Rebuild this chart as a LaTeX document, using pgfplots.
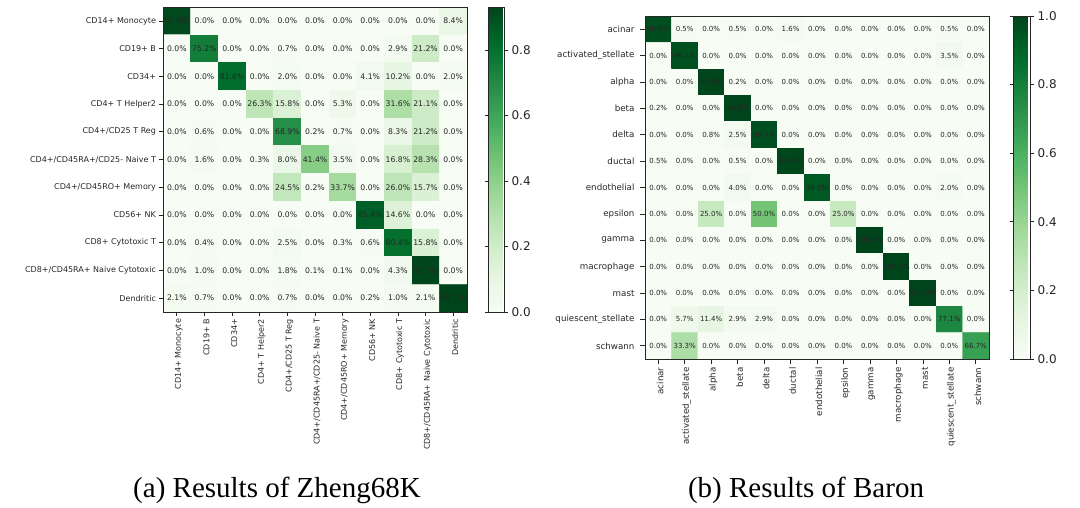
\documentclass[border=0pt]{standalone}
\usepackage{pgfplots}
\pgfplotsset{compat=1.18}
\usepackage{pgfplotstable}
\usepackage{fontspec}
\setmainfont{DejaVu Sans}
\newfontfamily\capfont{Liberation Serif}

%% matplotlib "Greens"
\pgfplotsset{
  colormap={greens}{rgb255=(247,252,245) rgb255=(229,245,224) rgb255=(199,233,192)
    rgb255=(161,217,155) rgb255=(116,196,118) rgb255=(65,171,93) rgb255=(35,139,69)
    rgb255=(0,109,44) rgb255=(0,68,27)},
  /pgf/number format/assume math mode=true,
  confmat/.style={
    scale only axis, enlargelimits=false, y dir=reverse, axis on top,
    colormap name=greens,
    axis line style={black!85, line width=0.8pt},
    tick align=outside, tick pos=left, major tick length=3.5pt,
    tick style={black!85, line width=0.7pt},
    xticklabel style={rotate=90, anchor=east, text=black!85},
    yticklabel style={text=black!85},
  },
  cbar/.style={
    scale only axis, at={(parent axis.north east)}, anchor=north west,
    axis line style={black!85, line width=0.8pt},
    tick align=outside, major tick length=3.5pt,
    tick style={black!85, line width=0.7pt},
    yticklabel style={font=\fontsize{12}{14}\selectfont, text=black!85},
  },
}

%% row-normalised confusion matrices (percent), x = predicted, y = true
\pgfplotstableread[row sep=\\]{
x y v\\
0 0 91.6\\ 1 0 0\\ 2 0 0\\ 3 0 0\\ 4 0 0\\ 5 0 0\\ 6 0 0\\ 7 0 0\\ 8 0 0\\ 9 0 0\\ 10 0 8.4\\
0 1 0\\ 1 1 75.2\\ 2 1 0\\ 3 1 0\\ 4 1 0.7\\ 5 1 0\\ 6 1 0\\ 7 1 0\\ 8 1 2.9\\ 9 1 21.2\\ 10 1 0\\
0 2 0\\ 1 2 0\\ 2 2 81.6\\ 3 2 0\\ 4 2 2.0\\ 5 2 0\\ 6 2 0\\ 7 2 4.1\\ 8 2 10.2\\ 9 2 0\\ 10 2 2.0\\
0 3 0\\ 1 3 0\\ 2 3 0\\ 3 3 26.3\\ 4 3 15.8\\ 5 3 0\\ 6 3 5.3\\ 7 3 0\\ 8 3 31.6\\ 9 3 21.1\\ 10 3 0\\
0 4 0\\ 1 4 0.6\\ 2 4 0\\ 3 4 0\\ 4 4 68.9\\ 5 4 0.2\\ 6 4 0.7\\ 7 4 0\\ 8 4 8.3\\ 9 4 21.2\\ 10 4 0\\
0 5 0\\ 1 5 1.6\\ 2 5 0\\ 3 5 0.3\\ 4 5 8.0\\ 5 5 41.4\\ 6 5 3.5\\ 7 5 0\\ 8 5 16.8\\ 9 5 28.3\\ 10 5 0\\
0 6 0\\ 1 6 0\\ 2 6 0\\ 3 6 0\\ 4 6 24.5\\ 5 6 0.2\\ 6 6 33.7\\ 7 6 0\\ 8 6 26.0\\ 9 6 15.7\\ 10 6 0\\
0 7 0\\ 1 7 0\\ 2 7 0\\ 3 7 0\\ 4 7 0\\ 5 7 0\\ 6 7 0\\ 7 7 85.4\\ 8 7 14.6\\ 9 7 0\\ 10 7 0\\
0 8 0\\ 1 8 0.4\\ 2 8 0\\ 3 8 0\\ 4 8 2.5\\ 5 8 0\\ 6 8 0.3\\ 7 8 0.6\\ 8 8 80.4\\ 9 8 15.8\\ 10 8 0\\
0 9 0\\ 1 9 1.0\\ 2 9 0\\ 3 9 0\\ 4 9 1.8\\ 5 9 0.1\\ 6 9 0.1\\ 7 9 0\\ 8 9 4.3\\ 9 9 92.7\\ 10 9 0\\
0 10 2.1\\ 1 10 0.7\\ 2 10 0\\ 3 10 0\\ 4 10 0.7\\ 5 10 0\\ 6 10 0\\ 7 10 0.2\\ 8 10 1.0\\ 9 10 2.1\\ 10 10 93.1\\
}\zheng

\pgfplotstableread[row sep=\\]{
x y v\\
0 0 96.9\\ 1 0 0.5\\ 2 0 0\\ 3 0 0.5\\ 4 0 0\\ 5 0 1.6\\ 6 0 0\\ 7 0 0\\ 8 0 0\\ 9 0 0\\ 10 0 0\\ 11 0 0.5\\ 12 0 0\\
0 1 0\\ 1 1 96.5\\ 2 1 0\\ 3 1 0\\ 4 1 0\\ 5 1 0\\ 6 1 0\\ 7 1 0\\ 8 1 0\\ 9 1 0\\ 10 1 0\\ 11 1 3.5\\ 12 1 0\\
0 2 0\\ 1 2 0\\ 2 2 99.8\\ 3 2 0.2\\ 4 2 0\\ 5 2 0\\ 6 2 0\\ 7 2 0\\ 8 2 0\\ 9 2 0\\ 10 2 0\\ 11 2 0\\ 12 2 0\\
0 3 0.2\\ 1 3 0\\ 2 3 0\\ 3 3 99.8\\ 4 3 0\\ 5 3 0\\ 6 3 0\\ 7 3 0\\ 8 3 0\\ 9 3 0\\ 10 3 0\\ 11 3 0\\ 12 3 0\\
0 4 0\\ 1 4 0\\ 2 4 0.8\\ 3 4 2.5\\ 4 4 96.7\\ 5 4 0\\ 6 4 0\\ 7 4 0\\ 8 4 0\\ 9 4 0\\ 10 4 0\\ 11 4 0\\ 12 4 0\\
0 5 0.5\\ 1 5 0\\ 2 5 0\\ 3 5 0.5\\ 4 5 0\\ 5 5 99.1\\ 6 5 0\\ 7 5 0\\ 8 5 0\\ 9 5 0\\ 10 5 0\\ 11 5 0\\ 12 5 0\\
0 6 0\\ 1 6 0\\ 2 6 0\\ 3 6 4.0\\ 4 6 0\\ 5 6 0\\ 6 6 94.0\\ 7 6 0\\ 8 6 0\\ 9 6 0\\ 10 6 0\\ 11 6 2.0\\ 12 6 0\\
0 7 0\\ 1 7 0\\ 2 7 25.0\\ 3 7 0\\ 4 7 50.0\\ 5 7 0\\ 6 7 0\\ 7 7 25.0\\ 8 7 0\\ 9 7 0\\ 10 7 0\\ 11 7 0\\ 12 7 0\\
0 8 0\\ 1 8 0\\ 2 8 0\\ 3 8 0\\ 4 8 0\\ 5 8 0\\ 6 8 0\\ 7 8 0\\ 8 8 100.0\\ 9 8 0\\ 10 8 0\\ 11 8 0\\ 12 8 0\\
0 9 0\\ 1 9 0\\ 2 9 0\\ 3 9 0\\ 4 9 0\\ 5 9 0\\ 6 9 0\\ 7 9 0\\ 8 9 0\\ 9 9 100.0\\ 10 9 0\\ 11 9 0\\ 12 9 0\\
0 10 0\\ 1 10 0\\ 2 10 0\\ 3 10 0\\ 4 10 0\\ 5 10 0\\ 6 10 0\\ 7 10 0\\ 8 10 0\\ 9 10 0\\ 10 10 100.0\\ 11 10 0\\ 12 10 0\\
0 11 0\\ 1 11 5.7\\ 2 11 11.4\\ 3 11 2.9\\ 4 11 2.9\\ 5 11 0\\ 6 11 0\\ 7 11 0\\ 8 11 0\\ 9 11 0\\ 10 11 0\\ 11 11 77.1\\ 12 11 0\\
0 12 0\\ 1 12 33.3\\ 2 12 0\\ 3 12 0\\ 4 12 0\\ 5 12 0\\ 6 12 0\\ 7 12 0\\ 8 12 0\\ 9 12 0\\ 10 12 0\\ 11 12 0\\ 12 12 66.7\\
}\baron

\begin{document}
\begin{tikzpicture}[x=1pt,y=1pt]
  \useasboundingbox (0,0) rectangle (1080,-507);

  %% (a) Zheng68K
  \begin{axis}[confmat,
    at={(163pt,-7pt)}, anchor=north west,
    width=304pt, height=305pt,
    xmin=-0.5, xmax=10.5, ymin=-0.5, ymax=10.5,
    xtick={0,...,10}, ytick={0,...,10},
    xticklabels={CD14+ Monocyte, CD19+ B, CD34+, CD4+ T Helper2, CD4+/CD25 T Reg,
      CD4+/CD45RA+/CD25- Naive T, CD4+/CD45RO+ Memory, CD56+ NK, CD8+ Cytotoxic T,
      CD8+/CD45RA+ Naive Cytotoxic, Dendritic},
    yticklabels={CD14+ Monocyte, CD19+ B, CD34+, CD4+ T Helper2, CD4+/CD25 T Reg,
      CD4+/CD45RA+/CD25- Naive T, CD4+/CD45RO+ Memory, CD56+ NK, CD8+ Cytotoxic T,
      CD8+/CD45RA+ Naive Cytotoxic, Dendritic},
    ticklabel style={font=\fontsize{8}{9}\selectfont},
    xticklabel style={yshift=-2pt},
    point meta min=0, point meta max=93.1,
    colorbar,
    colorbar style={cbar, xshift=13pt, width=16pt, height=305pt,
      ytick={0,20,40,60,80}, yticklabels={0.0,0.2,0.4,0.6,0.8}},
  ]
    \addplot [matrix plot*, mesh/cols=11, point meta=explicit] table [meta=v] {\zheng};
    \addplot [only marks, mark=none, point meta=explicit,
      nodes near coords={\pgfmathprintnumber[fixed,fixed zerofill,precision=1]{\pgfplotspointmeta}\%},
      nodes near coords align=center,
      every node near coord/.append style={font=\fontsize{7.7}{9}\selectfont, text=black!85, inner sep=0pt}]
      table [meta=v] {\zheng};
  \end{axis}

  %% (b) Baron
  \begin{axis}[confmat,
    at={(645pt,-16pt)}, anchor=north west,
    width=344pt, height=343pt,
    xmin=-0.5, xmax=12.5, ymin=-0.5, ymax=12.5,
    xtick={0,...,12}, ytick={0,...,12},
    major tick length=5pt,
    xticklabels={acinar, activated\_stellate, alpha, beta, delta, ductal, endothelial,
      epsilon, gamma, macrophage, mast, quiescent\_stellate, schwann},
    yticklabels={acinar, activated\_stellate, alpha, beta, delta, ductal, endothelial,
      epsilon, gamma, macrophage, mast, quiescent\_stellate, schwann},
    ticklabel style={font=\fontsize{8.7}{10}\selectfont},
    xticklabel style={yshift=-2pt},
    yticklabel style={xshift=-2pt},
    point meta min=0, point meta max=100,
    colorbar,
    colorbar style={cbar, xshift=16pt, width=17pt, height=343pt,
      ytick={0,20,40,60,80,100}, yticklabels={0.0,0.2,0.4,0.6,0.8,1.0}},
  ]
    \addplot [matrix plot*, mesh/cols=13, point meta=explicit] table [meta=v] {\baron};
    \addplot [only marks, mark=none, point meta=explicit,
      nodes near coords={\pgfmathprintnumber[fixed,fixed zerofill,precision=1]{\pgfplotspointmeta}\%},
      nodes near coords align=center,
      every node near coord/.append style={font=\fontsize{7}{8}\selectfont, text=black!85, inner sep=0pt}]
      table [meta=v] {\baron};
  \end{axis}

  \node [anchor=base, font=\capfont\fontsize{29}{32}\selectfont] at (277,-497) {(a) Results of Zheng68K};
  \node [anchor=base, font=\capfont\fontsize{29}{32}\selectfont] at (806,-497) {(b) Results of Baron};
\end{tikzpicture}
\end{document}
